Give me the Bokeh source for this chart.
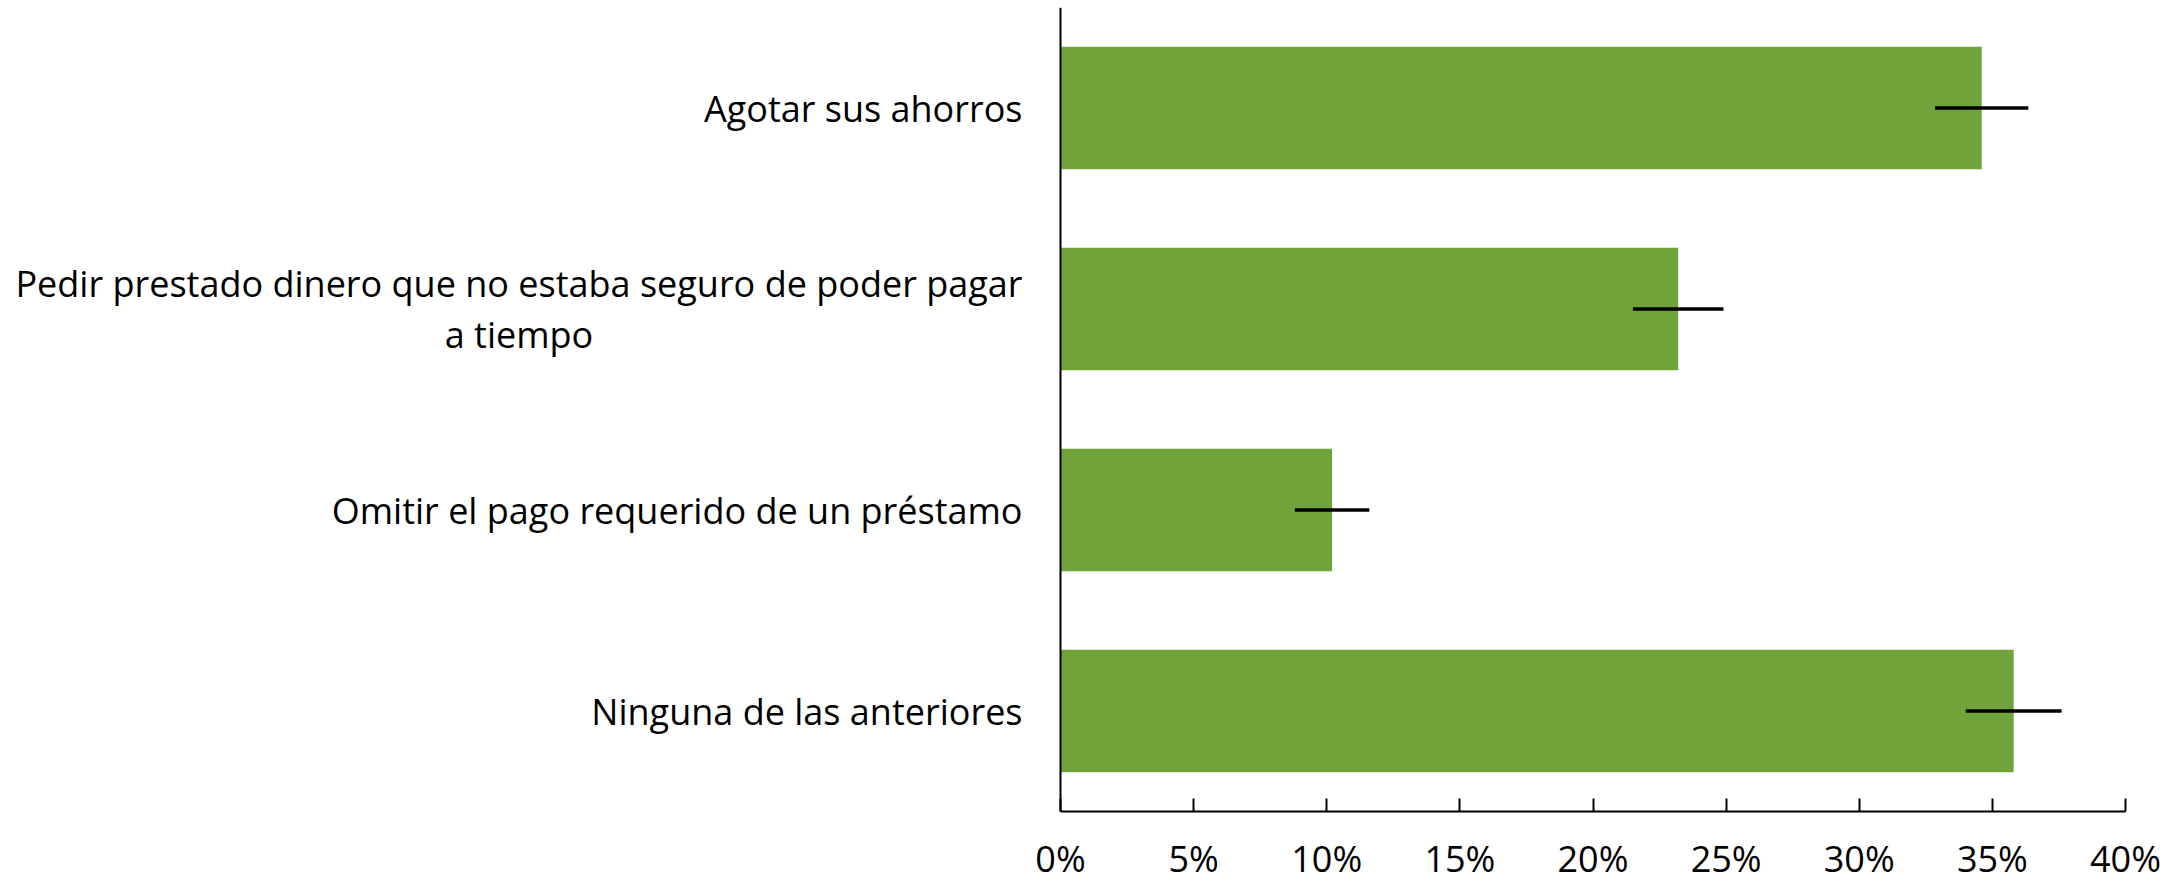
from bokeh.plotting import figure
from bokeh.models import FactorRange, Range1d, NumeralTickFormatter, FixedTicker, ColumnDataSource, Span
from bokeh.core.properties import value
from bokeh.embed import file_html
from bokeh.resources import INLINE

categories = [
    "Agotar sus ahorros",
    "Pedir prestado dinero que no estaba seguro de poder pagar\na tiempo",
    "Omitir el pago requerido de un préstamo",
    "Ninguna de las anteriores",
]
values = [0.346, 0.232, 0.102, 0.358]
errors = [0.0175, 0.017, 0.014, 0.018]
x_ticks = [0.0, 0.05, 0.10, 0.15, 0.20, 0.25, 0.30, 0.35, 0.40]

lower = [v - e for v, e in zip(values, errors)]
upper = [v + e for v, e in zip(values, errors)]
src = ColumnDataSource(dict(cat=categories, val=values, lo=lower, hi=upper))

FONT = "Open Sans"
W, H = 2180, 885
LABEL_AREA = 1060      # px left of the 0% line reserved for the category labels
RIGHT_PAD = 55
X_MAX = 0.40
plot_px = W - LABEL_AREA - RIGHT_PAD
x_min = -X_MAX * LABEL_AREA / plot_px   # extend range so labels sit inside the frame

p = figure(
    width=W, height=H,
    y_range=FactorRange(factors=list(reversed(categories))),
    x_range=Range1d(x_min, X_MAX),
    output_backend="svg", toolbar_location=None,
    min_border_left=0, min_border_right=RIGHT_PAD, min_border_top=7, min_border_bottom=0,
)
p.outline_line_color = None
p.xgrid.visible = False
p.ygrid.visible = False
p.yaxis.visible = False

p.hbar(y="cat", right="val", left=0, height=0.61, source=src,
       fill_color="#70A43A", line_color=None)
p.segment(x0="lo", x1="hi", y0="cat", y1="cat", source=src,
          line_color="black", line_width=3.3)

# vertical axis line at 0%
p.add_layout(Span(location=0, dimension="height", line_color="black", line_width=2))

# category labels: block right-anchored next to the axis, lines centred
p.text(x=0, y="cat", text="cat", source=src, x_offset=-38,
       text_font=value(FONT), text_font_size="36px", text_color="black",
       text_align="center", text_baseline="middle", anchor="center_right",
       text_line_height=1.03)

xa = p.xaxis[0]
xa.bounds = (0, X_MAX)
xa.ticker = FixedTicker(ticks=x_ticks)
xa.formatter = NumeralTickFormatter(format="0%")
xa.major_tick_in = 13
xa.major_tick_out = 0
xa.minor_tick_in = 0
xa.minor_tick_out = 0
xa.axis_line_width = 2
xa.major_tick_line_width = 2
xa.axis_line_color = "black"
xa.major_tick_line_color = "black"
xa.major_label_text_font = FONT
xa.major_label_text_font_size = "36px"
xa.major_label_text_color = "black"
xa.major_label_standoff = 22

open("out.html", "w").write(file_html(p, INLINE))
